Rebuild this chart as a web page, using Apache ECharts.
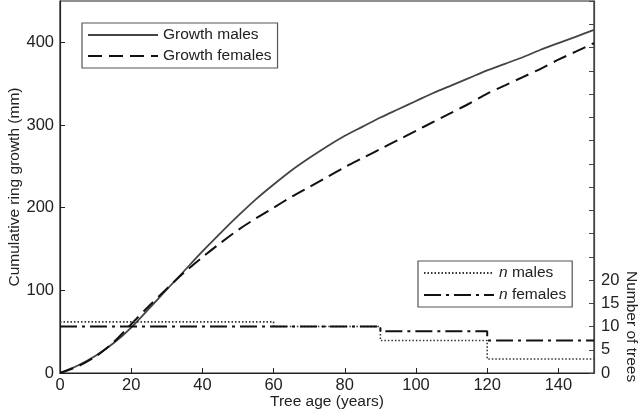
<!DOCTYPE html>
<html>
<head>
<meta charset="utf-8">
<script src="https://cdn.jsdelivr.net/npm/echarts@6/dist/echarts.min.js"></script>
<style>html,body{margin:0;padding:0;background:#fff}#c{width:640px;height:411px}</style>
</head>
<body>
<div id="c"></div>
<script>
const ages = [0,5,10,15,20,25,30,35,40,45,50,55,60,65,70,75,80,85,90,95,100,105,110,115,120,125,130,135,140,145,150];
const growthMales = [0,9,21,36,55,78,101,124,147,169,190,210,228,245,260,274,287,298,309,319,329,339,348,357,366,374,382,391,399,407,415];
const growthFemales = [0,8,20,37,59,81,102,122,140,157,173,187,200,213,225,237,249,260,271,282,293,304,315,326,338,348,358,368,379,389,399];
const maleStepAges = [0,60,90,120,150];
const maleCounts = [11,10,7,3,3];
const femaleStepAges = [0,90,120,150];
const femaleCounts = [10,9,7,7];

const font = 'Liberation Sans, Arial, sans-serif';
const ink = '#222';
const chart = echarts.init(document.getElementById('c'), null, {renderer:'canvas'});
const legendBase = {
  orient:'vertical',itemWidth:70,itemHeight:14,
  borderColor:'#555',borderWidth:1.2,backgroundColor:'#fff',
  itemStyle:{opacity:0,borderWidth:0}
};
chart.setOption({
  animation:false,
  backgroundColor:'#fff',
  textStyle:{fontFamily:font,color:ink},
  grid:{left:60,right:46,top:1,bottom:38,containLabel:false,outerBoundsMode:'none',
    show:true,borderColor:'#222',borderWidth:1.2,backgroundColor:'transparent'},
  xAxis:{type:'value',min:0,max:150,interval:20,
    name:'Tree age (years)',nameLocation:'middle',nameGap:21,nameMoveOverlap:false,
    nameTextStyle:{fontSize:15.5,color:ink,fontFamily:font},
    axisLine:{lineStyle:{color:'#222',width:1.2}},
    axisTick:{inside:true,length:5,lineStyle:{color:'#222'}},
    axisLabel:{fontSize:16.5,color:ink,fontFamily:font,margin:4,showMaxLabel:false},
    splitLine:{show:false}},
  yAxis:[
    {type:'value',min:0,max:450,interval:100,position:'left',
     name:'Cumulative ring growth (mm)',nameLocation:'middle',nameGap:37,nameMoveOverlap:false,
     nameTextStyle:{fontSize:15.5,color:ink,fontFamily:font},
     axisLine:{show:true,lineStyle:{color:'#222',width:1.2}},
     axisTick:{show:true,inside:true,length:5,lineStyle:{color:'#222'}},
     axisLabel:{fontSize:16.5,color:ink,fontFamily:font,margin:6,showMaxLabel:false},
     splitLine:{show:false}},
    {type:'value',min:0,max:80,interval:5,position:'right',
     axisLine:{show:true,lineStyle:{color:'#444',width:1.2}},
     axisTick:{show:true,inside:true,length:5,lineStyle:{color:'#444'}},
     axisLabel:{fontSize:16.5,color:ink,fontFamily:font,margin:7,
       formatter:function(v){return v<=20?String(v):'';}},
     splitLine:{show:false}}
  ],
  legend:[
    Object.assign({},legendBase,{data:['Growth males','Growth females'],left:82,top:23,
     padding:[4,6,4,5],itemGap:5,
     textStyle:{fontSize:15.5,color:ink,fontFamily:font}}),
    Object.assign({},legendBase,{data:['n males','n females'],left:418,top:261,
     padding:[4,6,4,5],itemGap:6,
     formatter:function(n){return '{i|n}'+n.slice(1);},
     textStyle:{fontSize:15.5,color:ink,fontFamily:font,
       rich:{i:{fontStyle:'italic',fontSize:15.5,fontFamily:font,color:ink}}}})
  ],
  series:[
    {name:'Growth males',type:'line',yAxisIndex:0,smooth:0.3,showSymbol:false,symbol:'none',
     data:ages.map((a,i)=>[a,growthMales[i]]),
     lineStyle:{color:'#444',width:1.8,type:'solid'},itemStyle:{color:'#444'}},
    {name:'Growth females',type:'line',yAxisIndex:0,smooth:0.3,showSymbol:false,symbol:'none',
     data:ages.map((a,i)=>[a,growthFemales[i]]),
     lineStyle:{color:'#111',width:2,type:[14,7]},itemStyle:{color:'#111'}},
    {name:'n males',type:'line',yAxisIndex:1,step:'end',showSymbol:false,symbol:'none',
     data:maleStepAges.map((a,i)=>[a,maleCounts[i]]),
     lineStyle:{color:'#333',width:1.6,type:[1.5,2]},itemStyle:{color:'#333'}},
    {name:'n females',type:'line',yAxisIndex:1,step:'end',showSymbol:false,symbol:'none',
     data:femaleStepAges.map((a,i)=>[a,femaleCounts[i]]),
     lineStyle:{color:'#111',width:2,type:[17,5,3,5]},itemStyle:{color:'#111'}}
  ],
  graphic:[
    {type:'text',left:623,top:271,rotation:-Math.PI/2,originX:0,originY:0,
     style:{text:'Number of trees',fontSize:15.5,fontFamily:font,fill:ink}}
  ]
});
</script>
</body>
</html>
